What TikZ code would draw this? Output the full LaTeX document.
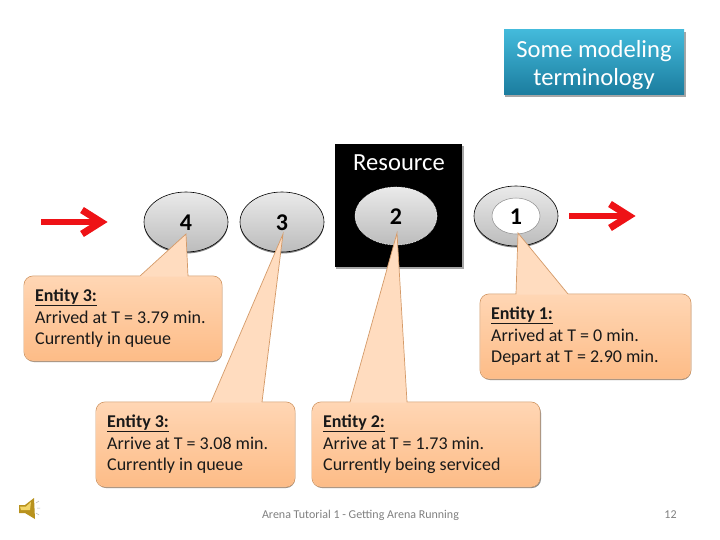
\documentclass[tikz,border=0pt]{standalone}
\usepackage{fontspec}
\setmainfont{Carlito}
\tikzset{
  x=1pt,y=-1pt,
  entity/.style={draw=black,line width=0.6pt,top color=ellTop,bottom color=ellBot},
  entityshadow/.style={fill=black!50},
  calloutline/.style={draw=calloutEdge,line width=0.7pt,fill=calloutLight},
  calloutbody/.style={top color=calloutTop,bottom color=calloutBot,rounded corners=9},
  calloutshadow/.style={fill=black!45,rounded corners=9},
  callouttext/.style={anchor=north west,align=left,font=\fontsize{18}{21.7}\selectfont,text=black!90,inner sep=0pt},
  numlabel/.style={font=\fontsize{24}{26}\bfseries\selectfont,text=black},
  flow/.style={draw=flowRed,line width=6pt},
  softshadow/.style={fill=black!35},
  foot/.style={font=\fontsize{12}{14}\selectfont,text=black!50}
}
\definecolor{ellTop}{HTML}{EAEAEA}
\definecolor{ellBot}{HTML}{BCBCBC}
\definecolor{calloutEdge}{HTML}{D49A68}
\definecolor{calloutLight}{HTML}{FFDCBF}
\definecolor{calloutTop}{HTML}{FFD6B4}
\definecolor{calloutBot}{HTML}{FDBC87}
\definecolor{flowRed}{HTML}{EE1216}
\definecolor{titleTop}{HTML}{43BADB}
\definecolor{titleBot}{HTML}{1B7C9E}
\definecolor{speakerDark}{HTML}{B8921E}
\definecolor{speakerLight}{HTML}{F2D568}
\begin{document}
\begin{tikzpicture}
\useasboundingbox (0,0) rectangle (720,540);
\fill[white] (0,0) rectangle (720,540);

% title
\fill[softshadow] (505,32) rectangle (686,97);
\shade[top color=titleTop,bottom color=titleBot] (504,30) rectangle (684,95);
\node[align=center,text=white,font=\fontsize{24.6}{28}\selectfont,inner sep=0pt] (title) at (594,65) {Some modeling\\terminology};

% resource
\fill[softshadow] (336,146) rectangle (464,269);
\fill[black] (335,144) rectangle (462,267);
\node[text=white,font=\fontsize{24.6}{26}\selectfont,inner sep=0pt] (resource) at (399,162.5) {Resource};

% arrows
\draw[flow] (41,222) -- (102,222);
\draw[flow,line width=7pt] (82,210) -- (101,222) -- (82,234);
\draw[flow] (569,216) -- (630,216);
\draw[flow,line width=7pt] (610,204) -- (629,216) -- (610,228);

% entities
\fill[entityshadow] (186,223.5) ellipse [x radius=42,y radius=30];
\shade[entity] (186,222) ellipse [x radius=42,y radius=30];
\node[numlabel] (e4) at (186,222.5) {4};
\fill[entityshadow] (282,223.5) ellipse [x radius=42,y radius=30];
\shade[entity] (282,222) ellipse [x radius=42,y radius=30];
\node[numlabel] (e3) at (282,222.5) {3};
\shade[entity,draw=white,densely dotted] (396,216) ellipse [x radius=41,y radius=29];
\node[numlabel] (e2) at (396,216.5) {2};
\fill[entityshadow] (516,217.5) ellipse [x radius=42,y radius=30];
\shade[entity] (516,216) ellipse [x radius=42,y radius=30];
\fill[white] (516,216) ellipse [x radius=24,y radius=18];
\draw[black!45,line width=0.5pt] (516,216) ellipse [x radius=24,y radius=18];
\node[numlabel] (e1) at (516,216.5) {1};

% callout: entity 3 arrived
\fill[calloutshadow] (25,278) rectangle (222,362);
\path[calloutline] (140,276) [rounded corners=9] -- (24,276) -- (24,361) -- (222,361) -- (222,276) [sharp corners] -- (188,276) -- (186,234) -- cycle;
\shade[calloutbody] (24.5,276.5) rectangle (221.5,360.5);
\node[callouttext] (c1) at (35,288.5) {\underline{\textbf{Entity 3:}}\\Arrived at T = 3.79 min.\\Currently in queue};

% callout: entity 3 arrive
\fill[calloutshadow] (97,404) rectangle (295,488);
\path[calloutline] (211,402) [rounded corners=9] -- (96,402) -- (96,487) -- (295,487) -- (295,402) [sharp corners] -- (262,402) -- (283,234) -- cycle;
\shade[calloutbody] (96.5,402.5) rectangle (294.5,486.5);
\node[callouttext] (c2) at (107,414.5) {\underline{\textbf{Entity 3:}}\\Arrive at T = 3.08 min.\\Currently in queue};

% callout: entity 2
\fill[calloutshadow] (313,404) rectangle (541,488);
\path[calloutline] (350,402) [rounded corners=9] -- (312,402) -- (312,487) -- (540,487) -- (540,402) [sharp corners] -- (407,402) -- (397,233) -- cycle;
\shade[calloutbody] (312.5,402.5) rectangle (539.5,486.5);
\node[callouttext] (c3) at (323,414.5) {\underline{\textbf{Entity 2:}}\\Arrive at T = 1.73 min.\\Currently being serviced};

% callout: entity 1
\fill[calloutshadow] (481,296) rectangle (691,380);
\path[calloutline] (516,294) [rounded corners=9] -- (480,294) -- (480,379) -- (691,379) -- (691,294) [sharp corners] -- (568,294) -- (518,233) -- cycle;
\shade[calloutbody] (480.5,294.5) rectangle (690.5,378.5);
\node[callouttext] (c4) at (491,306.5) {\underline{\textbf{Entity 1:}}\\Arrived at T = 0 min.\\Depart at T = 2.90 min.};

% speaker icon
\fill[speakerDark] (19,505) -- (25,505) -- (34,498) -- (35,519) -- (25,513) -- (19,513) -- cycle;
\fill[speakerLight] (20,506.5) -- (26,506.5) -- (31,502) -- (30,510) -- (21,510) -- cycle;
\draw[black!30,line width=0.5pt] (36,503) -- (39,501) (37,508) -- (40,508) (36,513) -- (39,515);

% footer
\node[foot] (footer) at (360.5,515) {Arena Tutorial 1 - Getting Arena Running};
\node[foot] (page) at (670.5,515) {12};
\end{tikzpicture}
\end{document}
